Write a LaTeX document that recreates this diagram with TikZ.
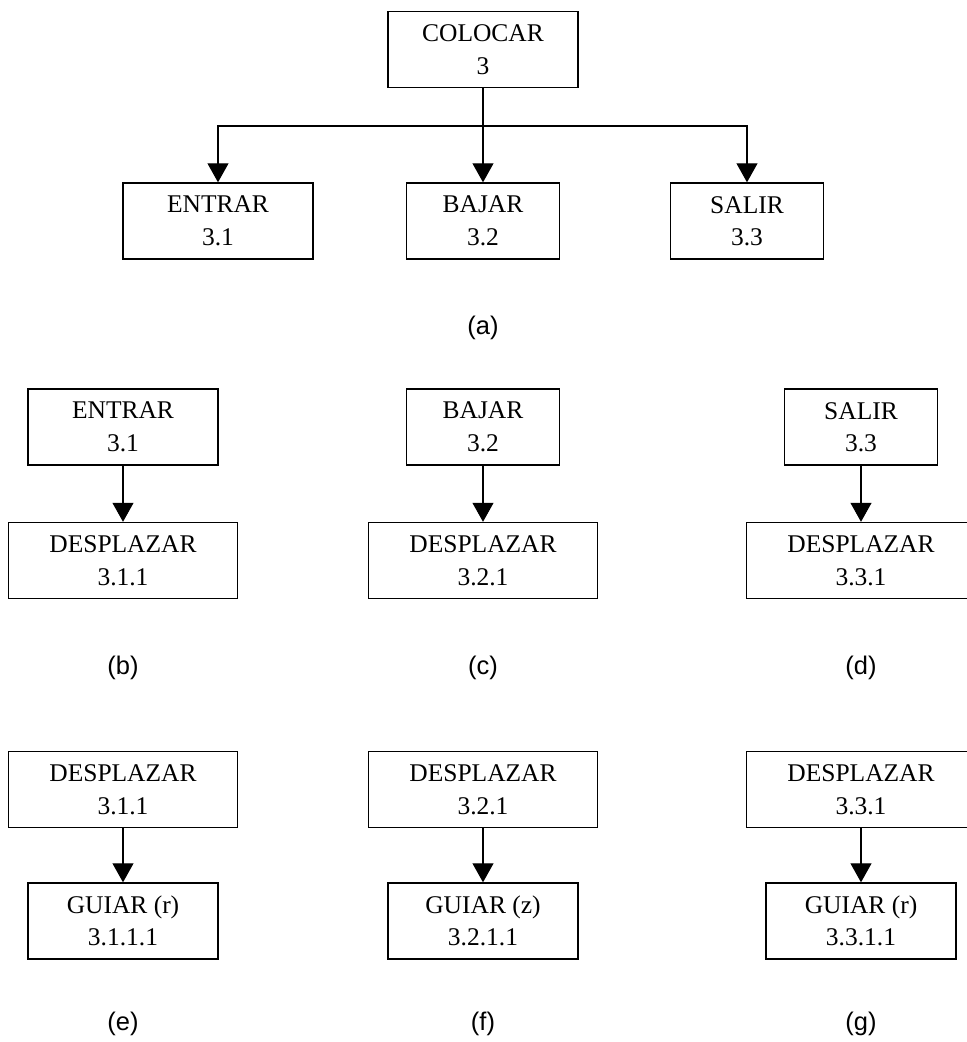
\documentclass[tikz,border=0pt]{standalone}
\usepackage{fontspec}
\setmainfont{Liberation Serif}
\newfontfamily\captionfont{Liberation Sans}
\usetikzlibrary{
arrows.meta
}

\begin{document}
\begin{tikzpicture}[
        x = 0.02cm,
        y = -0.02cm,
        box/.style={
          draw,
          line width = 0.8pt,
          minimum height = 1.52cm,
          inner sep = 0pt,
          align = center,
          font = \fontsize{14.5}{18.5}\selectfont,
        },
        short box/.style={
          box,
          minimum width = 3.06cm,
        },
        mid box/.style={
          box,
          minimum width = 3.8cm,
        },
        long box/.style={
          box,
          minimum width = 4.58cm,
        },
        link/.style={
          line width = 0.6pt,
          -{Triangle[width=0.42cm,length=0.38cm]},
        },
        caption/.style={
          font = \captionfont\fontsize{14.5}{16}\selectfont,
        },
        ]
        \useasboundingbox (0,0) rectangle (967,1042);
        \clip (0,0) rectangle (967,1042);

        % (a)
        \node [mid box, name=colocar] at (483,49.5) {COLOCAR\\3};
        \node [mid box, name=entrar-a] at (218,221) {ENTRAR\\3.1};
        \node [short box, name=bajar-a] at (483,221) {BAJAR\\3.2};
        \node [short box, name=salir-a] at (747,221) {SALIR\\3.3};
        \coordinate (split) at (483,126);
        \draw [link] (colocar) -- (bajar-a);
        \draw [link] (split) -| (entrar-a);
        \draw [link] (split) -| (salir-a);
        \node [caption, name=cap-a] at (483,328) {(a)};

        % (b) (c) (d)
        \node [mid box, name=entrar-b] at (123,427) {ENTRAR\\3.1};
        \node [long box, name=desplazar-b] at (123,560.5) {DESPLAZAR\\3.1.1};
        \draw [link] (entrar-b) -- (desplazar-b);
        \node [caption, name=cap-b] at (123,668) {(b)};

        \node [short box, name=bajar-c] at (483,427) {BAJAR\\3.2};
        \node [long box, name=desplazar-c] at (483,560.5) {DESPLAZAR\\3.2.1};
        \draw [link] (bajar-c) -- (desplazar-c);
        \node [caption, name=cap-c] at (483,668) {(c)};

        \node [short box, name=salir-d] at (861,427) {SALIR\\3.3};
        \node [long box, name=desplazar-d] at (861,560.5) {DESPLAZAR\\3.3.1};
        \draw [link] (salir-d) -- (desplazar-d);
        \node [caption, name=cap-d] at (861,668) {(d)};

        % (e) (f) (g)
        \node [long box, name=desplazar-e] at (123,789.5) {DESPLAZAR\\3.1.1};
        \node [mid box, name=guiar-e] at (123,921) {GUIAR (r)\\3.1.1.1};
        \draw [link] (desplazar-e) -- (guiar-e);
        \node [caption, name=cap-e] at (123,1024) {(e)};

        \node [long box, name=desplazar-f] at (483,789.5) {DESPLAZAR\\3.2.1};
        \node [mid box, name=guiar-f] at (483,921) {GUIAR (z)\\3.2.1.1};
        \draw [link] (desplazar-f) -- (guiar-f);
        \node [caption, name=cap-f] at (483,1024) {(f)};

        \node [long box, name=desplazar-g] at (861,789.5) {DESPLAZAR\\3.3.1};
        \node [mid box, name=guiar-g] at (861,921) {GUIAR (r)\\3.3.1.1};
        \draw [link] (desplazar-g) -- (guiar-g);
        \node [caption, name=cap-g] at (861,1024) {(g)};
      \end{tikzpicture}
\end{document}
